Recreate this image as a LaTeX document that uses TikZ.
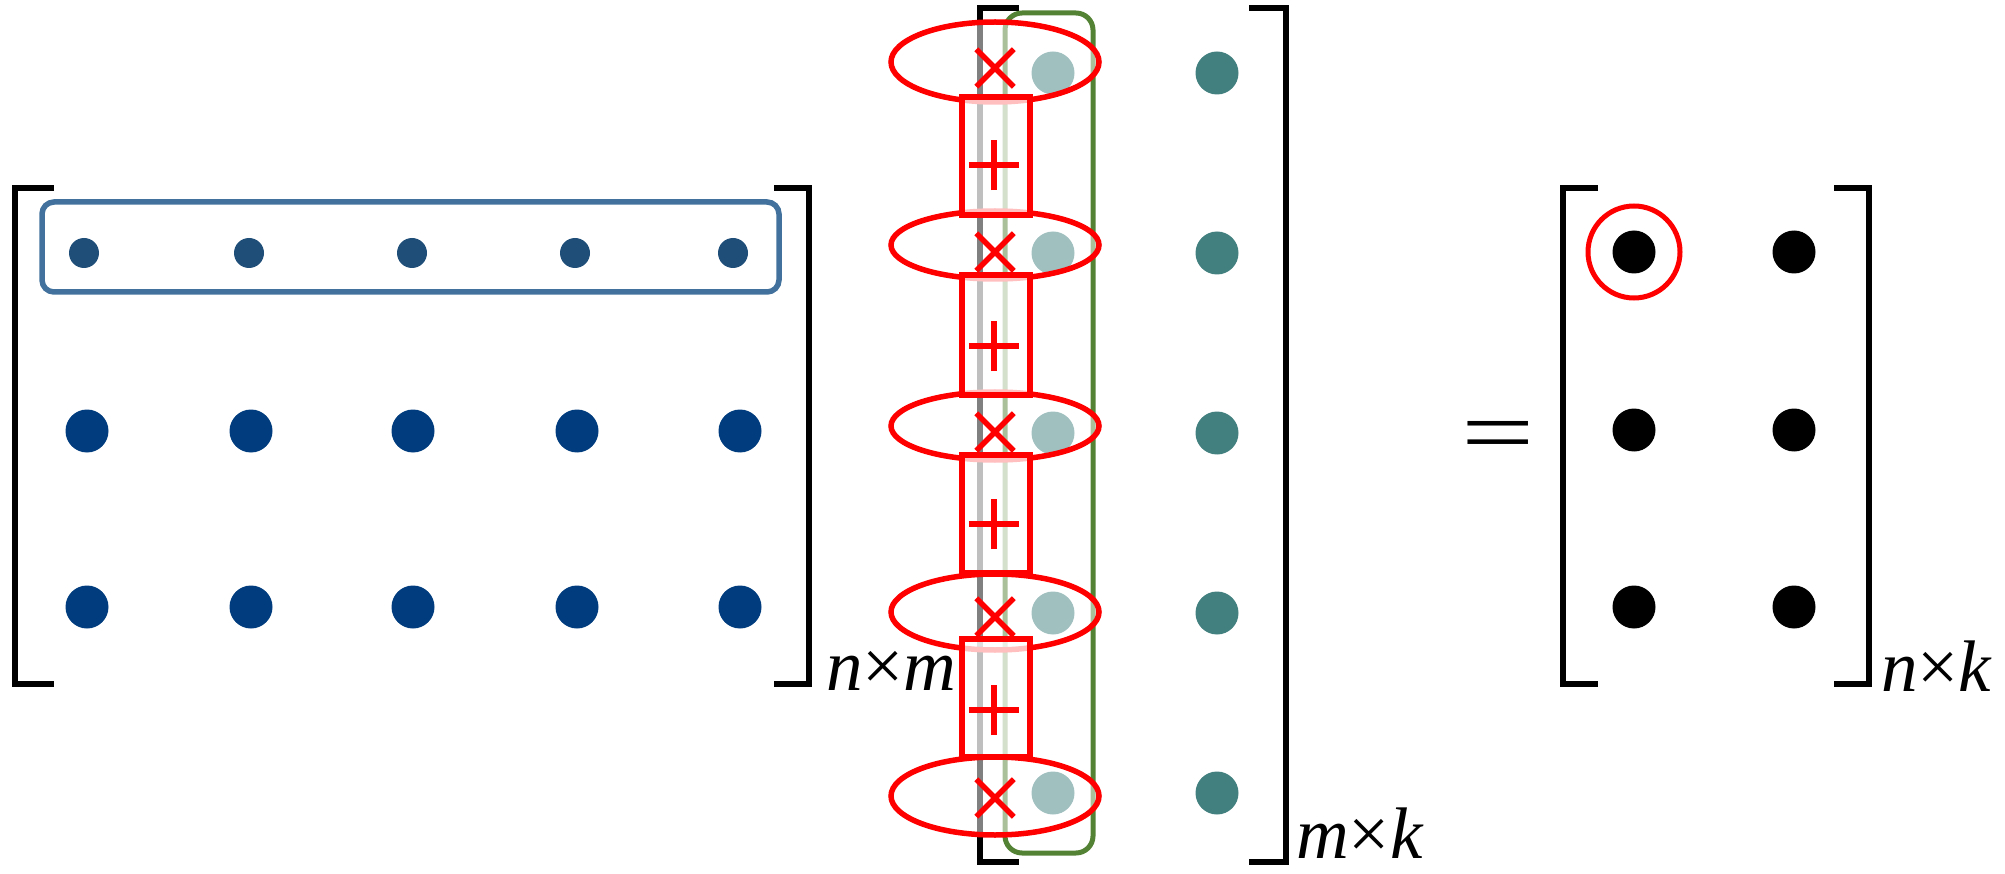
\documentclass[tikz,border=0pt]{standalone}
\usepackage{fontspec}
\setmainfont{Liberation Serif}
\usetikzlibrary{shapes.geometric,shapes.misc}

\definecolor{rowblue}{HTML}{1F4E79}
\definecolor{matblue}{HTML}{003C7E}
\definecolor{matteal}{HTML}{427F7F}
\definecolor{boxblue}{HTML}{41719C}
\definecolor{boxgreen}{HTML}{548235}

\begin{document}
\begin{tikzpicture}
        [   x=1pt, y=-1pt,
            Bracket/.style=
            {line width=5.5pt},
            RowBox/.style=
            {draw=boxblue, line width=5.5pt, rounded corners=12pt},
            ColBox/.style=
            {draw=boxgreen, line width=5pt, rounded corners=17pt},
            SmallDot/.style=
            {circle, fill=rowblue, inner sep=0pt, minimum size=30pt},
            ADot/.style=
            {circle, fill=matblue, inner sep=0pt, minimum size=43pt},
            BDot/.style=
            {circle, fill=matteal, inner sep=0pt, minimum size=43pt},
            CDot/.style=
            {circle, fill=black, inner sep=0pt, minimum size=43pt},
            MulRing/.style=
            {ellipse, draw=red, line width=5.5pt, fill=white,
            fill opacity=0.5, minimum width=208pt, inner sep=0pt},
            AddBox/.style=
            {rectangle, draw=red, line width=5.5pt, fill=white,
            fill opacity=0.75, minimum width=68pt, inner sep=0pt},
            TimesSign/.style=
            {cross out, draw=red, line width=5.5pt, minimum size=32pt, inner sep=0pt},
            PlusSign/.style=
            {cross out, draw=red, line width=5.5pt, minimum size=30pt,
            inner sep=0pt, rotate=45},
            DimLabel/.style=
            {anchor=base west, inner sep=0pt, font=\fontsize{73}{73}\selectfont}
        ]
            \useasboundingbox (0,0) rectangle (2005,874);

            % left matrix
            \draw[Bracket] (54,188) -- (15,188) -- (15,684) -- (54,684);
            \draw[Bracket] (774,188) -- (809,188) -- (809,684) -- (774,684);
            \draw[RowBox] (42,202) rectangle (779,292);
            \foreach \x [count=\i] in {84, 249, 412, 575, 733}
                \node[SmallDot] (a1_\i) at (\x, 253) {};
            \foreach \x [count=\i] in {87, 251, 413, 577, 740}
            {
                \node[ADot] (a2_\i) at (\x, 431) {};
                \node[ADot] (a3_\i) at (\x, 607) {};
            }
            \node[DimLabel] (nm) at (826,690) {\textit{n}×\textit{m}};

            % middle matrix
            \draw[Bracket] (1019,8) -- (980,8) -- (980,862) -- (1019,862);
            \draw[Bracket] (1249,8) -- (1286,8) -- (1286,862) -- (1249,862);
            \draw[ColBox] (1005,13) rectangle (1093,853);
            \foreach \y [count=\i] in {73, 253, 433, 613, 793}
            {
                \node[BDot] (b\i_1) at (1053, \y) {};
                \node[BDot] (b\i_2) at (1217, \y) {};
            }
            \node[DimLabel] (mk) at (1296,858) {\textit{m}×\textit{k}};

            % products and sums down the first column
            \foreach \y/\h [count=\i] in {62/80, 245/68, 426/68, 612/76, 796/78}
                \node[MulRing, minimum height=\h pt] (mul\i) at (995, \y) {};
            \foreach \y/\h [count=\i] in {156/118, 335/120, 514/118, 698/118}
                \node[AddBox, minimum height=\h pt] (add\i) at (996, \y) {};
            \foreach \y [count=\i] in {68, 252, 432, 617, 798}
                \node[TimesSign] (times\i) at (995, \y) {};
            \foreach \y [count=\i] in {165, 346, 524, 710}
                \node[PlusSign] (plus\i) at (994, \y) {};

            % result
            \node[anchor=base, inner sep=0pt, xscale=1.3, yscale=0.92,
                font=\fontsize{100}{100}\selectfont] (eq) at (1498,463) {=};
            \draw[Bracket] (1598,188) -- (1563,188) -- (1563,684) -- (1598,684);
            \draw[Bracket] (1834,188) -- (1869,188) -- (1869,684) -- (1834,684);
            \foreach \y [count=\i] in {252, 430, 607}
            {
                \node[CDot] (c\i_1) at (1634, \y) {};
                \node[CDot] (c\i_2) at (1794, \y) {};
            }
            \node[circle, draw=red, line width=5pt, minimum size=92pt, inner sep=0pt]
                (pick) at (c1_1) {};
            \node[DimLabel] (nk) at (1881,691) {\textit{n}×\textit{k}};
    \end{tikzpicture}
\end{document}
